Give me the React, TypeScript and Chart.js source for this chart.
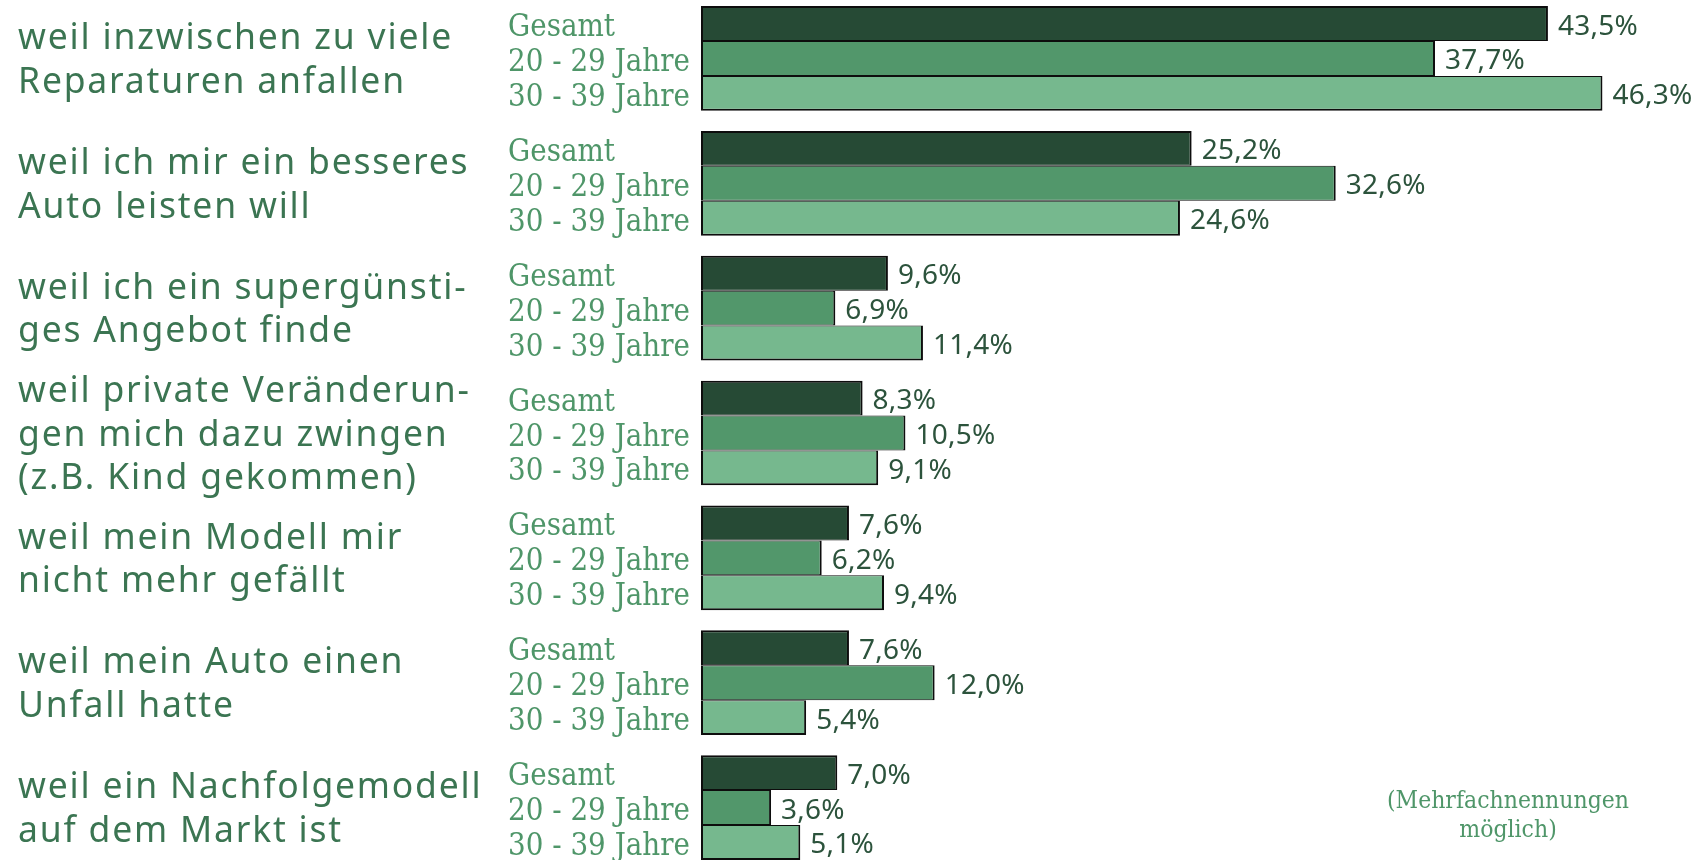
import React, { useEffect, useRef } from "react";
import { Chart, registerables } from "chart.js";

Chart.register(...registerables);

const categories: string[][] = [
  ["weil inzwischen zu viele", "Reparaturen anfallen"],
  ["weil ich mir ein besseres", "Auto leisten will"],
  ["weil ich ein supergünsti-", "ges Angebot finde"],
  ["weil private Veränderun-", "gen mich dazu zwingen", "(z.B. Kind gekommen)"],
  ["weil mein Modell mir", "nicht mehr gefällt"],
  ["weil mein Auto einen", "Unfall hatte"],
  ["weil ein Nachfolgemodell", "auf dem Markt ist"],
];

const seriesNames = ["Gesamt", "20 - 29 Jahre", "30 - 39 Jahre"];
const gesamt = [43.5, 25.2, 9.6, 8.3, 7.6, 7.6, 7.0];
const age2029 = [37.7, 32.6, 6.9, 10.5, 6.2, 12.0, 3.6];
const age3039 = [46.3, 24.6, 11.4, 9.1, 9.4, 5.4, 5.1];
const noteLines = ["(Mehrfachnennungen", "möglich)"];

const barColors = ["#264a35", "#52976b", "#76b88e"];
const borderWidths = [
  { top: 2, bottom: 1, left: 2, right: 2 },
  { top: 1, bottom: 1, left: 2, right: 2 },
  { top: 1, bottom: 2, left: 2, right: 2 },
];

const fmt = (v: number) => v.toFixed(1).replace(".", ",") + "%";

function fitSpacing(ctx: CanvasRenderingContext2D, text: string, target: number) {
  (ctx as any).letterSpacing = "0px";
  const w = ctx.measureText(text).width;
  (ctx as any).letterSpacing = (target - w) / text.length + "px";
}

function fitScale(ctx: CanvasRenderingContext2D, text: string, target: number) {
  (ctx as any).letterSpacing = "0px";
  return target / ctx.measureText(text).width;
}

function drawScaled(
  ctx: CanvasRenderingContext2D,
  text: string,
  x: number,
  y: number,
  sx: number
) {
  ctx.save();
  ctx.scale(sx, 1);
  ctx.fillText(text, x / sx, y);
  ctx.restore();
}

const textPlugin = {
  id: "customTexts",
  afterDraw(chart: any) {
    const ctx: CanvasRenderingContext2D = chart.ctx;
    ctx.save();
    ctx.textAlign = "left";
    ctx.textBaseline = "alphabetic";

    // Category labels (left column)
    ctx.font = '400 35.5px "Noto Sans"';
    fitSpacing(ctx, categories[0][0], 435);
    ctx.fillStyle = "#3b7552";
    const midMeta = chart.getDatasetMeta(1);
    categories.forEach((lines, i) => {
      const cy = midMeta.data[i].y;
      const n = lines.length;
      lines.forEach((ln, j) => {
        ctx.fillText(ln, 18, cy + 12.5 + (j - (n - 1) / 2) * 43.5);
      });
    });
    (ctx as any).letterSpacing = "0px";

    // Series sub-labels
    ctx.font = '31px "DejaVu Serif"';
    const sxSub = fitScale(ctx, seriesNames[1], 182);
    ctx.fillStyle = "#4f9669";
    for (let d = 0; d < 3; d++) {
      const meta = chart.getDatasetMeta(d);
      meta.data.forEach((el: any) => {
        drawScaled(ctx, seriesNames[d], 508, el.y + 12.5, sxSub);
      });
    }

    // Value labels
    ctx.font = '400 28px "Noto Sans"';
    fitSpacing(ctx, "43,5%", 80);
    ctx.fillStyle = "#2c533c";
    for (let d = 0; d < 3; d++) {
      const meta = chart.getDatasetMeta(d);
      const vals = chart.data.datasets[d].data as number[];
      meta.data.forEach((el: any, i: number) => {
        ctx.fillText(fmt(vals[i]), el.x + 10, el.y + 11);
      });
    }
    (ctx as any).letterSpacing = "0px";

    // Note
    ctx.font = '24px "DejaVu Serif"';
    const sxNote = fitScale(ctx, noteLines[0], 242);
    ctx.fillStyle = "#4f9669";
    ctx.textAlign = "center";
    drawScaled(ctx, noteLines[0], 1508, 812, sxNote);
    drawScaled(ctx, noteLines[1], 1508, 841, sxNote);
    ctx.restore();
  },
};

export default function App() {
  const ref = useRef<HTMLCanvasElement>(null);
  useEffect(() => {
    if (!ref.current) return;
    const series = [gesamt, age2029, age3039];
    const chart = new Chart(ref.current, {
      type: "bar",
      data: {
        labels: categories.map((c) => c.join(" ")),
        datasets: series.map((vals, d) => ({
          label: seriesNames[d],
          data: vals,
          backgroundColor: barColors[d],
          borderColor: "#0d0d0d",
          borderWidth: borderWidths[d] as any,
          borderSkipped: false as any,
          inflateAmount: 0,
          categoryPercentage: 0.8386,
          barPercentage: 1.0,
        })),
      },
      options: {
        indexAxis: "y",
        responsive: false,
        maintainAspectRatio: false,
        devicePixelRatio: 1,
        animation: false,
        layout: { padding: { left: 701, right: 31.5, top: 0, bottom: 0 } },
        scales: {
          x: { type: "linear", min: 0, max: 50, display: false, grid: { display: false } },
          y: { type: "category", display: false, grid: { display: false } },
        },
        plugins: {
          legend: { display: false },
          tooltip: { enabled: false },
        },
      },
      plugins: [textPlugin],
    } as any);
    return () => chart.destroy();
  }, []);

  return (
    <div
      style={{
        position: "fixed",
        left: 0,
        top: 0,
        width: 1706,
        height: 860,
        overflow: "hidden",
        background: "#ffffff",
      }}
    >
      <canvas
        ref={ref}
        width={1706}
        height={874}
        style={{ position: "absolute", left: 0, top: -4, width: 1706, height: 874 }}
      />
    </div>
  );
}
